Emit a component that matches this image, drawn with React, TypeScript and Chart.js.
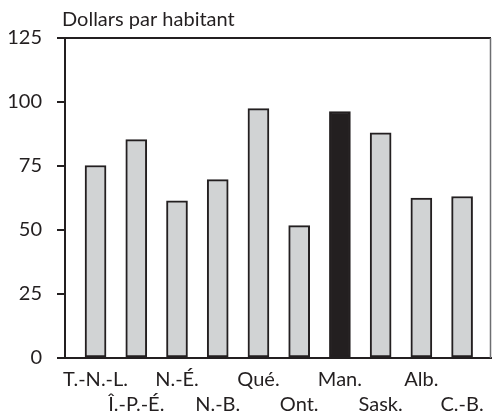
import React, { useEffect, useRef } from 'react';
import { Chart, registerables } from 'chart.js';

Chart.register(...registerables);

const provinces = ['T.-N.-L.', 'Î.-P.-É.', 'N.-É.', 'N.-B.', 'Qué.', 'Ont.', 'Man.', 'Sask.', 'Alb.', 'C.-B.'];
const dollarsPerCapita = [75.2, 85.3, 61.4, 69.7, 97.4, 51.7, 96.3, 88, 62.5, 63.1];
const highlightedProvince = 'Man.';
const yMin = 0;
const yMax = 125;
const yStep = 25;
const titleText = 'Dollars par habitant';

const INK = '#231f20';
const BAR_FILL = '#d1d3d4';
const FONT = 'Lato, "Open Sans", sans-serif';

const framePlugin = {
  id: 'frameAndTitle',
  afterDraw(chart: any) {
    const { ctx, chartArea } = chart;
    ctx.save();
    ctx.strokeStyle = INK;
    ctx.lineWidth = 2;
    ctx.beginPath();
    ctx.moveTo(chartArea.left - 8, chartArea.top);
    ctx.lineTo(chartArea.right, chartArea.top);
    ctx.stroke();
    ctx.strokeStyle = '#6d6e71';
    ctx.lineWidth = 1.5;
    ctx.beginPath();
    ctx.moveTo(chartArea.right - 0.5, chartArea.top);
    ctx.lineTo(chartArea.right - 0.5, chartArea.bottom);
    ctx.stroke();
    ctx.fillStyle = INK;
    ctx.font = `20px ${FONT}`;
    ctx.textBaseline = 'alphabetic';
    ctx.textAlign = 'left';
    ctx.fillText(titleText, chartArea.left - 3, chartArea.top - 12);
    ctx.restore();
  },
};

export default function App() {
  const ref = useRef<HTMLCanvasElement>(null);

  useEffect(() => {
    if (!ref.current) return;
    const chart = new Chart(ref.current, {
      type: 'bar',
      data: {
        datasets: [
          {
            data: dollarsPerCapita.map((v, i) => ({ x: i, y: v })),
            backgroundColor: provinces.map((p) => (p === highlightedProvince ? INK : BAR_FILL)),
            borderColor: INK,
            borderWidth: 2,
            borderSkipped: false,
            barThickness: 21,
          },
        ],
      },
      options: {
        responsive: false,
        animation: false,
        layout: { padding: { top: 38, right: 1, left: 0, bottom: 0 } },
        plugins: { legend: { display: false }, tooltip: { enabled: false }, title: { display: false } },
        scales: {
          x: {
            type: 'linear',
            offset: false,
            min: -0.75,
            max: 9.71,
            grid: { display: false },
            border: { display: true, color: INK, width: 2 },
            afterBuildTicks: (scale: any) => {
              scale.ticks = provinces.map((_, i) => ({ value: i }));
            },
            afterFit: (scale: any) => {
              scale.height = 58;
            },
            ticks: {
              autoSkip: false,
              maxRotation: 0,
              minRotation: 0,
              padding: 1,
              color: INK,
              font: { family: FONT, size: 20, lineHeight: 1.25 },
              callback: (value: any) => {
                const i = Math.round(Number(value));
                const label = provinces[i] ?? '';
                return i % 2 === 0 ? [label] : ['', label];
              },
            },
          },
          y: {
            min: yMin,
            max: yMax,
            grid: { display: true, drawOnChartArea: false, drawTicks: true, tickLength: 8, color: INK, lineWidth: 2 },
            border: { display: true, color: INK, width: 2 },
            afterFit: (scale: any) => {
              scale.width = 65;
            },
            ticks: {
              stepSize: yStep,
              padding: 15,
              color: INK,
              font: { family: FONT, size: 20 },
            },
          },
        },
      },
      plugins: [framePlugin],
    });
    return () => chart.destroy();
  }, []);

  return (
    <div style={{ position: 'absolute', left: 0, top: 0, width: 492, height: 416, background: '#fff' }}>
      <canvas ref={ref} width={492} height={416} style={{ display: 'block' }} />
    </div>
  );
}
